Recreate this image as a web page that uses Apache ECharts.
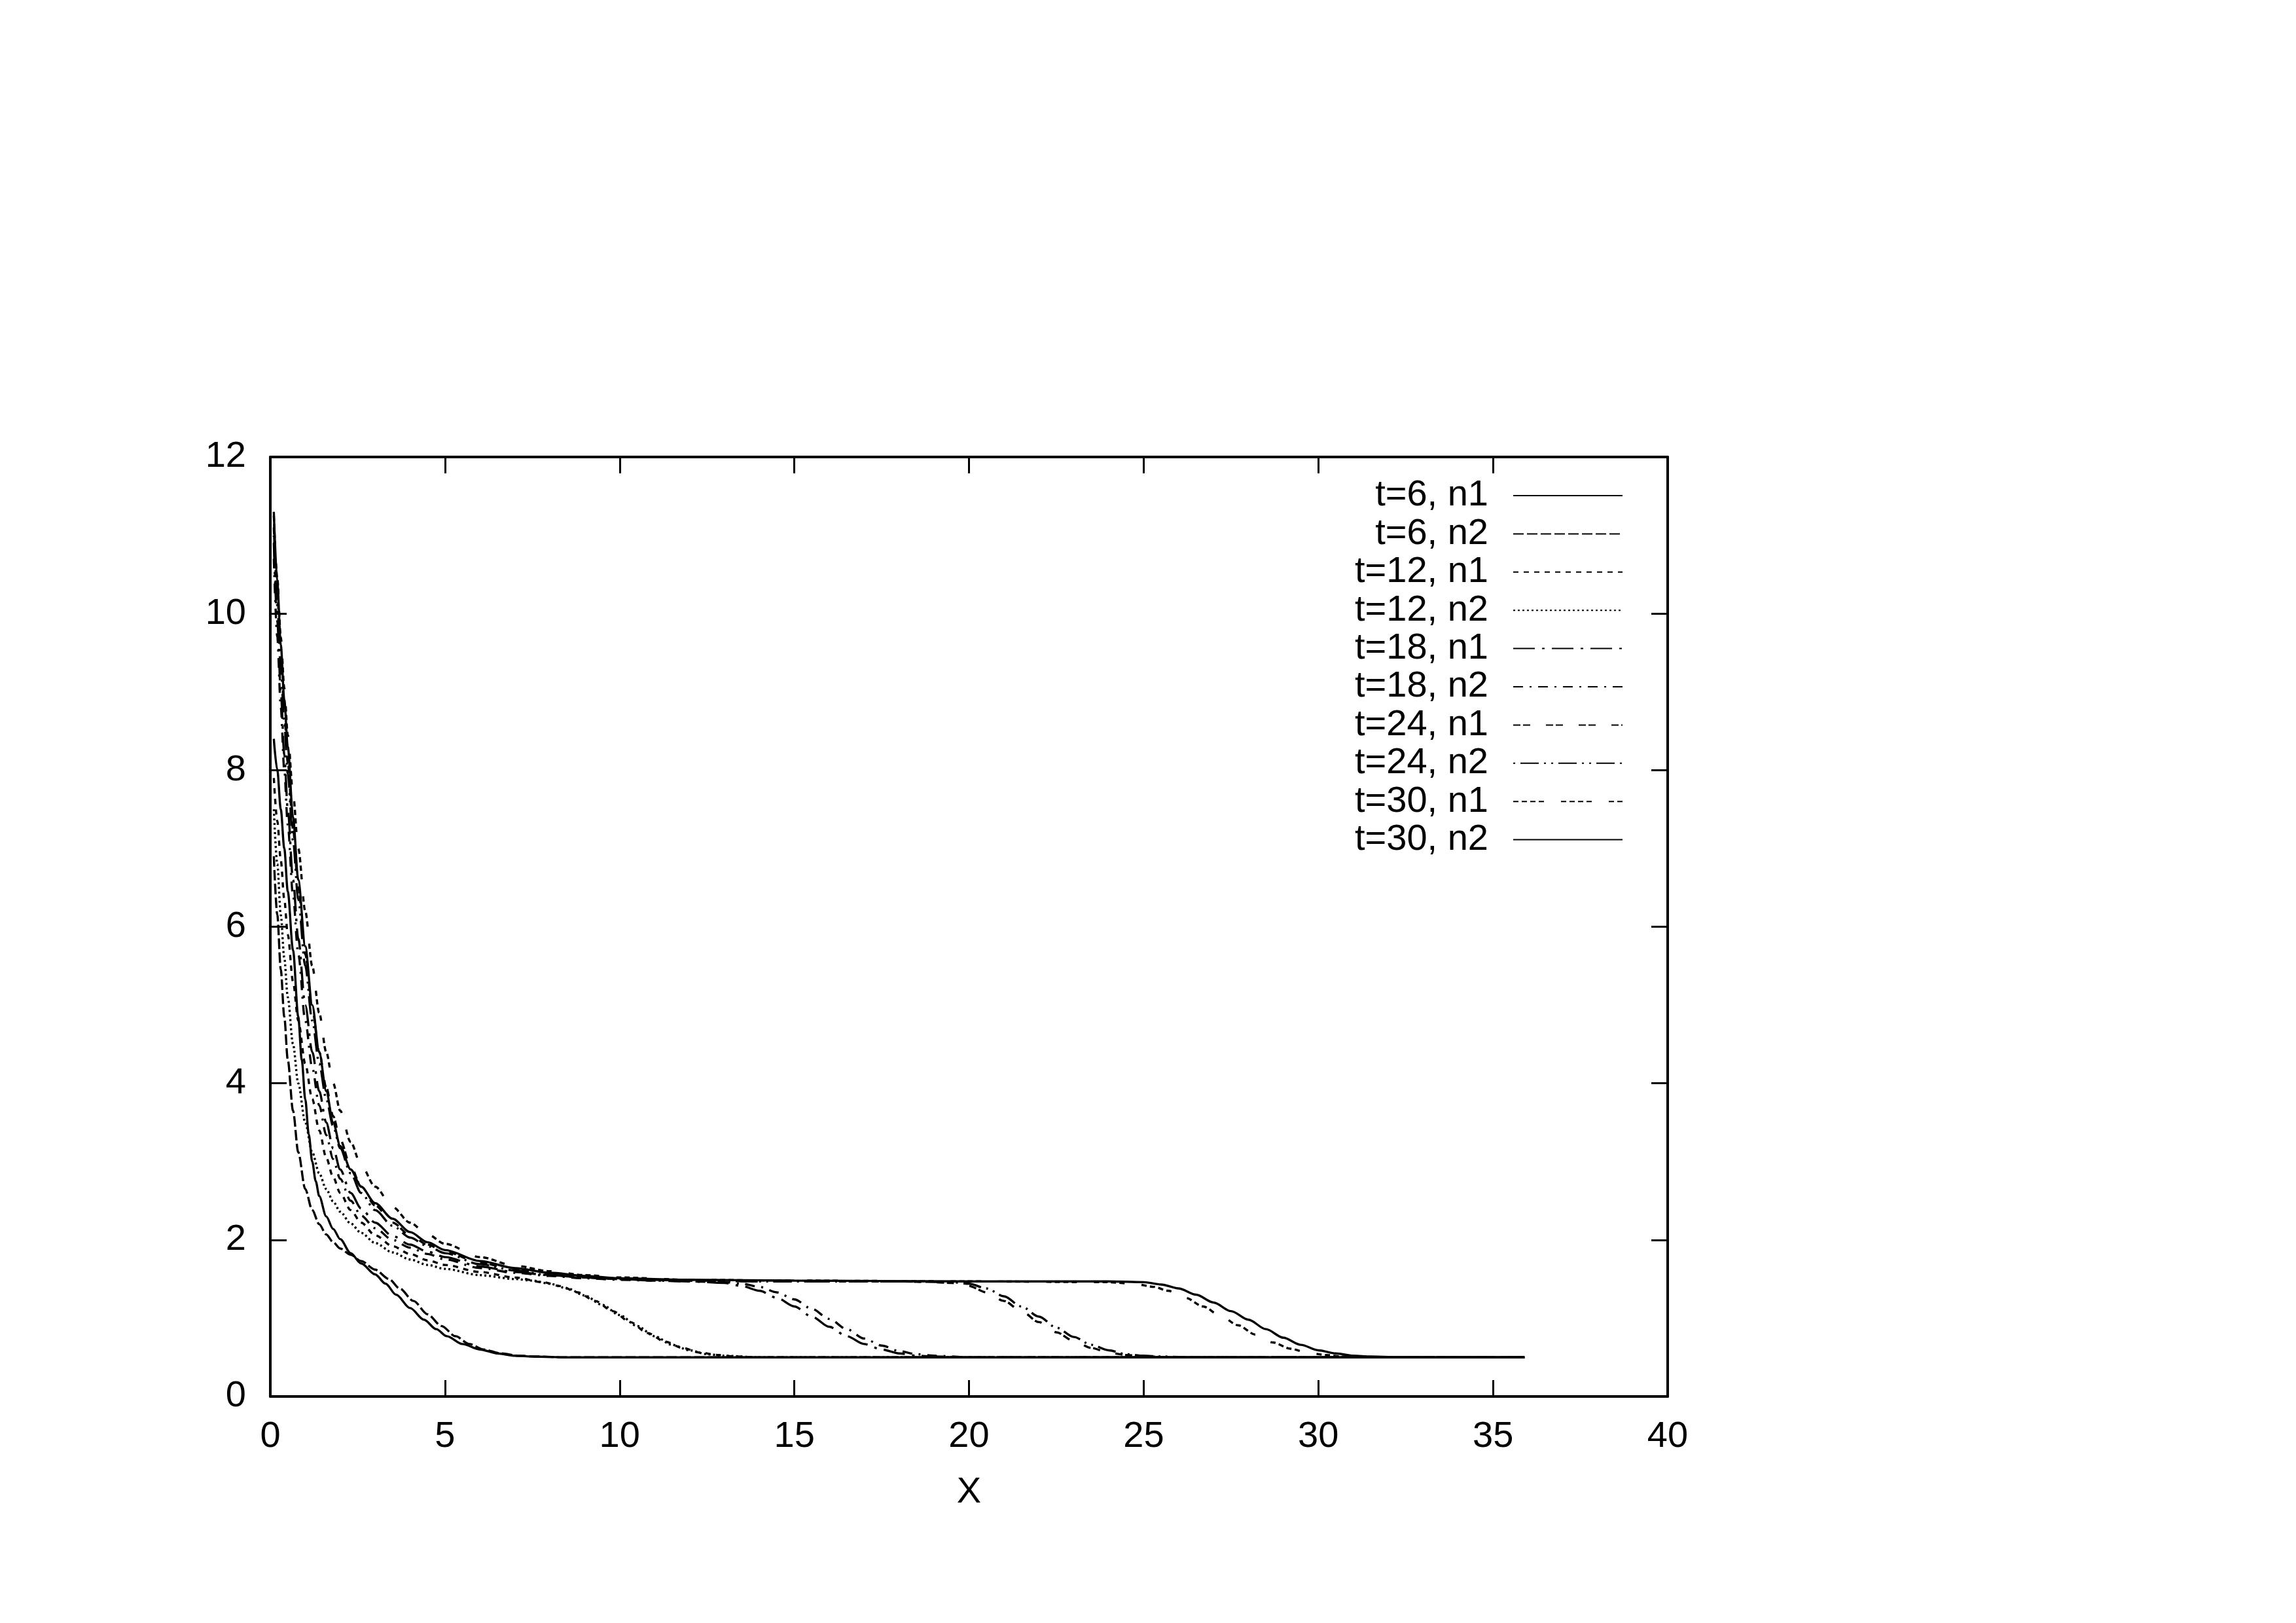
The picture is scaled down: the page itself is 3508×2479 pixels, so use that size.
<!DOCTYPE html>
<html>
<head>
<meta charset="utf-8">
<title>n1 / n2 profiles</title>
<script src="https://cdn.jsdelivr.net/npm/echarts@6/dist/echarts.min.js"></script>
<style>
  html, body { margin: 0; padding: 0; background: #ffffff; }
  #chart { width: 3508px; height: 2479px; }
</style>
</head>
<body>
<div id="chart"></div>
<script>
// Profiles, as [x, value] pairs.
var t6n1 = [[0.1, 8.4], [0.2, 8.0], [0.3, 7.5], [0.4, 7.0], [0.5, 6.45], [0.65, 5.7], [0.8, 4.85],
  [0.9, 4.3], [1.0, 3.8], [1.1, 3.35], [1.2, 3.0], [1.3, 2.75], [1.4, 2.56], [1.6, 2.3], [1.8, 2.14],
  [2.0, 2.01], [2.3, 1.83], [2.6, 1.7], [3.0, 1.56], [3.3, 1.44], [3.6, 1.3], [4.0, 1.13], [4.4, 0.98],
  [4.75, 0.86], [5.05, 0.77], [5.5, 0.67], [6.0, 0.6], [6.5, 0.55], [7.0, 0.52], [7.5, 0.51],
  [8.5, 0.5], [35.9, 0.5]];
var t6n2 = [[0.1, 6.9], [0.2, 6.15], [0.3, 5.45], [0.4, 4.85], [0.5, 4.3], [0.65, 3.65], [0.8, 3.12],
  [1.0, 2.65], [1.2, 2.38], [1.4, 2.2], [1.6, 2.07], [1.8, 1.97], [2.0, 1.89], [2.3, 1.81], [2.6, 1.73],
  [3.0, 1.62], [3.4, 1.5], [3.7, 1.38], [4.1, 1.22], [4.5, 1.05], [4.9, 0.9], [5.3, 0.77], [5.7, 0.67],
  [6.1, 0.6], [6.6, 0.55], [7.1, 0.52], [7.6, 0.51], [8.5, 0.5], [35.9, 0.5]];
var t12n1 = [[0.1, 7.9], [0.2, 7.35], [0.3, 6.85], [0.4, 6.35], [0.5, 5.9], [0.65, 5.3], [0.8, 4.8],
  [1.0, 4.25], [1.2, 3.8], [1.4, 3.4], [1.6, 3.05], [1.8, 2.8], [2.0, 2.6], [2.3, 2.38], [2.6, 2.22],
  [3.0, 2.06], [3.5, 1.92], [4.0, 1.82], [4.5, 1.74], [5.0, 1.68], [6.0, 1.59], [7.0, 1.52], [7.8, 1.46],
  [8.3, 1.41], [8.8, 1.33], [9.3, 1.22], [9.8, 1.09], [10.3, 0.95], [10.8, 0.81], [11.3, 0.7],
  [11.8, 0.62], [12.3, 0.56], [12.8, 0.53], [13.3, 0.51], [14.0, 0.5], [35.9, 0.5]];
var t12n2 = [[0.1, 7.5], [0.2, 6.8], [0.3, 6.15], [0.4, 5.6], [0.5, 5.1], [0.65, 4.5], [0.8, 4.0],
  [1.0, 3.5], [1.2, 3.12], [1.4, 2.85], [1.6, 2.65], [1.8, 2.49], [2.0, 2.36], [2.3, 2.21], [2.6, 2.09],
  [3.0, 1.96], [3.5, 1.84], [4.0, 1.75], [4.5, 1.68], [5.0, 1.63], [6.0, 1.55], [7.0, 1.5], [7.5, 1.48],
  [8.0, 1.44], [8.5, 1.38], [9.0, 1.29], [9.5, 1.17], [10.0, 1.04], [10.5, 0.9], [11.0, 0.77],
  [11.5, 0.66], [12.0, 0.59], [12.5, 0.54], [13.0, 0.52], [14.0, 0.5], [35.9, 0.5]];
var t18n1 = [[0.1, 10.9], [0.2, 9.9], [0.3, 9.0], [0.4, 8.2], [0.5, 7.5], [0.65, 6.6], [0.8, 5.85],
  [1.0, 5.0], [1.2, 4.4], [1.4, 3.9], [1.6, 3.5], [1.8, 3.17], [2.0, 2.9], [2.3, 2.6], [2.6, 2.4],
  [3.0, 2.22], [3.5, 2.05], [4.0, 1.94], [4.5, 1.85], [5.0, 1.78], [6.0, 1.66], [7.0, 1.59], [8.0, 1.55],
  [9.0, 1.52], [10.0, 1.5], [11.0, 1.48], [12.0, 1.47], [13.0, 1.45], [13.5, 1.41], [14.0, 1.35],
  [14.5, 1.26], [15.0, 1.15], [15.5, 1.02], [16.0, 0.89], [16.5, 0.77], [17.0, 0.67], [17.5, 0.6],
  [18.0, 0.55], [18.5, 0.52], [19.0, 0.51], [20.0, 0.5], [35.9, 0.5]];
var t18n2 = [[0.1, 10.7], [0.2, 9.7], [0.3, 8.8], [0.4, 8.0], [0.5, 7.3], [0.65, 6.4], [0.8, 5.65],
  [1.0, 4.8], [1.2, 4.2], [1.4, 3.72], [1.6, 3.34], [1.8, 3.03], [2.0, 2.78], [2.3, 2.5], [2.6, 2.31],
  [3.0, 2.15], [3.5, 2.0], [4.0, 1.9], [4.5, 1.82], [5.0, 1.75], [6.0, 1.64], [7.0, 1.58], [8.0, 1.54],
  [9.0, 1.51], [10.0, 1.49], [11.0, 1.48], [12.0, 1.47], [13.0, 1.46], [13.5, 1.44], [14.0, 1.4],
  [14.5, 1.33], [15.0, 1.24], [15.5, 1.12], [16.0, 0.99], [16.5, 0.86], [17.0, 0.74], [17.5, 0.65],
  [18.0, 0.58], [18.5, 0.54], [19.0, 0.52], [20.0, 0.5], [35.9, 0.5]];
var t24n1 = [[0.1, 11.1], [0.2, 10.25], [0.3, 9.45], [0.4, 8.75], [0.5, 8.1], [0.65, 7.25], [0.8, 6.5],
  [1.0, 5.65], [1.2, 4.95], [1.4, 4.4], [1.6, 3.95], [1.8, 3.58], [2.0, 3.28], [2.3, 2.94], [2.6, 2.68],
  [3.0, 2.44], [3.5, 2.22], [4.0, 2.06], [4.5, 1.94], [5.0, 1.85], [6.0, 1.71], [7.0, 1.62], [8.0, 1.56],
  [9.0, 1.53], [10.0, 1.5], [12.0, 1.48], [14.0, 1.47], [18.0, 1.47], [19.0, 1.46], [19.5, 1.45],
  [20.0, 1.41], [20.5, 1.33], [21.0, 1.22], [21.5, 1.09], [22.0, 0.95], [22.5, 0.82], [23.0, 0.71],
  [23.5, 0.62], [24.0, 0.56], [24.5, 0.53], [25.0, 0.51], [26.0, 0.5], [35.9, 0.5]];
var t24n2 = [[0.1, 11.0], [0.2, 10.1], [0.3, 9.3], [0.4, 8.6], [0.5, 7.95], [0.65, 7.1], [0.8, 6.35],
  [1.0, 5.5], [1.2, 4.8], [1.4, 4.25], [1.6, 3.8], [1.8, 3.45], [2.0, 3.17], [2.3, 2.85], [2.6, 2.6],
  [3.0, 2.38], [3.5, 2.18], [4.0, 2.03], [4.5, 1.92], [5.0, 1.83], [6.0, 1.69], [7.0, 1.61], [8.0, 1.55],
  [9.0, 1.52], [10.0, 1.5], [12.0, 1.48], [14.0, 1.47], [18.0, 1.47], [19.5, 1.46], [20.0, 1.44],
  [20.5, 1.38], [21.0, 1.28], [21.5, 1.15], [22.0, 1.02], [22.5, 0.88], [23.0, 0.76], [23.5, 0.66],
  [24.0, 0.59], [24.5, 0.54], [25.0, 0.52], [25.5, 0.51], [26.5, 0.5], [35.9, 0.5]];
var t30n1 = [[0.1, 11.25], [0.2, 10.45], [0.3, 9.7], [0.4, 9.05], [0.5, 8.45], [0.65, 7.7], [0.8, 7.0],
  [1.0, 6.2], [1.2, 5.5], [1.4, 4.9], [1.6, 4.4], [1.8, 4.0], [2.0, 3.65], [2.3, 3.25], [2.6, 2.95],
  [3.0, 2.68], [3.5, 2.42], [4.0, 2.22], [4.5, 2.07], [5.0, 1.95], [6.0, 1.78], [7.0, 1.67], [8.0, 1.6],
  [9.0, 1.55], [10.0, 1.52], [12.0, 1.49], [15.0, 1.48], [20.0, 1.47], [24.0, 1.46], [24.7, 1.44],
  [25.3, 1.4], [25.7, 1.35], [26.2, 1.26], [26.7, 1.15], [27.2, 1.03], [27.7, 0.91], [28.2, 0.79],
  [28.7, 0.69], [29.2, 0.61], [29.7, 0.56], [30.2, 0.53], [30.7, 0.51], [31.5, 0.5], [35.9, 0.5]];
var t30n2 = [[0.1, 11.3], [0.2, 10.4], [0.3, 9.6], [0.4, 8.9], [0.5, 8.3], [0.65, 7.4], [0.8, 6.6],
  [1.0, 5.75], [1.2, 5.0], [1.4, 4.4], [1.6, 3.9], [1.8, 3.5], [2.0, 3.2], [2.3, 2.9], [2.6, 2.68],
  [3.0, 2.47], [3.5, 2.27], [4.0, 2.1], [4.5, 1.97], [5.0, 1.87], [6.0, 1.73], [7.0, 1.64], [8.0, 1.58],
  [9.0, 1.54], [10.0, 1.51], [12.0, 1.49], [15.0, 1.48], [20.0, 1.47], [24.0, 1.47], [25.0, 1.46],
  [25.5, 1.43], [26.0, 1.38], [26.5, 1.3], [27.0, 1.2], [27.5, 1.09], [28.0, 0.98], [28.5, 0.86],
  [29.0, 0.75], [29.5, 0.66], [30.0, 0.59], [30.5, 0.55], [31.0, 0.52], [31.5, 0.51], [32.5, 0.5],
  [35.9, 0.5]];

var seriesNames = ["t=6, n1", "t=6, n2", "t=12, n1", "t=12, n2", "t=18, n1",
  "t=18, n2", "t=24, n1", "t=24, n2", "t=30, n1", "t=30, n2"];
var seriesData = [t6n1, t6n2, t12n1, t12n2, t18n1, t18n2, t24n1, t24n2, t30n1, t30n2];

// gnuplot line types 1..10 (dash on/off lengths in px, null = solid)
var dashes = [null, [16, 5], [8, 8], [3, 4], [33, 11, 4, 11], [15, 10, 3, 10],
  [11, 4, 11, 24], [3, 8, 28, 8, 3, 8], [8, 5, 8, 5, 8, 5, 8, 26], null];

var FONT = "'Liberation Sans', Arial, Helvetica, sans-serif";
var FS = 56;

var chart = echarts.init(document.getElementById("chart"), null, { renderer: "canvas" });

// gnuplot draws a full border with inward ticks mirrored on every side
function boxAxis(pos, min, max, step, labels, extra) {
  var ax = {
    type: "value",
    position: pos,
    min: min,
    max: max,
    interval: step,
    axisLine: { show: true, onZero: false, lineStyle: { color: "#000", width: 4 } },
    axisTick: { show: true, inside: true, length: 25, lineStyle: { color: "#000", width: 3 } },
    splitLine: { show: false },
    axisLabel: {
      show: labels,
      color: "#000",
      fontFamily: FONT,
      fontSize: FS
    }
  };
  return Object.assign(ax, extra || {});
}

var series = seriesData.map(function (d, i) {
  return {
    name: seriesNames[i],
    type: "line",
    data: d,
    xAxisIndex: 0,
    yAxisIndex: 0,
    symbol: "none",
    showSymbol: false,
    smooth: 0.3,
    smoothMonotone: "x",
    silent: true,
    itemStyle: { color: "#000" },
    lineStyle: { color: "#000", width: 3.4, type: dashes[i] || "solid" }
  };
});

chart.setOption({
  animation: false,
  backgroundColor: "#ffffff",
  textStyle: { fontFamily: FONT },
  grid: { left: 413, top: 698, right: 960, bottom: 346, containLabel: false },
  xAxis: [
    boxAxis("bottom", 0, 40, 5, true, {
      name: "X",
      nameLocation: "middle",
      nameGap: 119,
      nameTextStyle: { color: "#000", fontFamily: FONT, fontSize: FS },
      axisLabel: { show: true, margin: 34, color: "#000", fontFamily: FONT, fontSize: FS }
    }),
    boxAxis("top", 0, 40, 5, false)
  ],
  yAxis: [
    boxAxis("left", 0, 12, 2, true, {
      axisLabel: { show: true, margin: 37, color: "#000", fontFamily: FONT, fontSize: FS }
    }),
    boxAxis("right", 0, 12, 2, false)
  ],
  legend: {
    orient: "vertical",
    align: "right",
    right: 1028,
    top: 729,
    padding: 0,
    itemGap: 2.4,
    itemWidth: 167,
    itemHeight: 4,
    selectedMode: false,
    itemStyle: { opacity: 0 },
    textStyle: {
      color: "#000",
      fontFamily: FONT,
      fontSize: FS,
      lineHeight: 56,
      padding: [0, 33, 0, 0]
    },
    data: seriesNames
  },
  series: series
});
</script>
</body>
</html>
